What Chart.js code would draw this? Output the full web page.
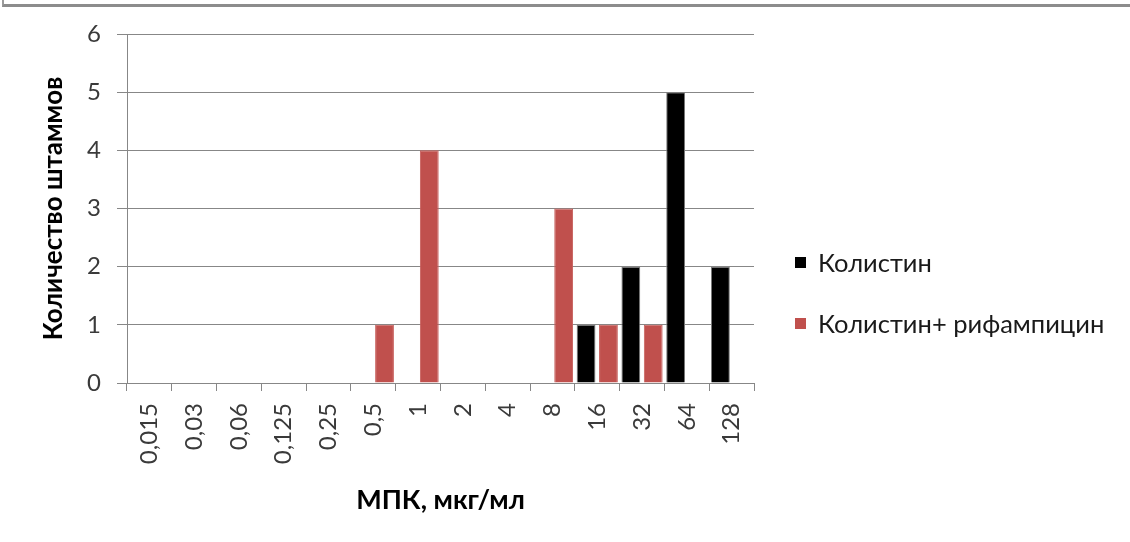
<!DOCTYPE html>
<html>
<head>
<meta charset="utf-8">
<script src="https://cdn.jsdelivr.net/npm/chart.js@4.4.1/dist/chart.umd.min.js"></script>
<style>
  html, body { margin: 0; padding: 0; background: #ffffff; }
  #wrap { position: relative; width: 1130px; height: 542px; overflow: hidden; }
  #frame {
    position: absolute; left: 2px; top: -10px; width: 1200px; height: 14px;
    border-left: 2px solid #9b9b9b; border-bottom: 3px solid #8c8c8c;
  }
  #legend { position: absolute; left: 0; top: 0; }
  .lg-item {
    position: absolute; display: flex; align-items: center; white-space: nowrap;
    font-family: Lato, "Open Sans", sans-serif; font-size: 25.5px; color: #1a1a1a;
  }
  .lg-box { width: 11px; height: 11px; margin-right: 12px; }
</style>
</head>
<body>
<div id="wrap">
  <canvas id="chart" width="1130" height="542"></canvas>
  <div id="frame"></div>
  <div id="legend"></div>
</div>
<script>
// MIC values (x categories)
const categories = ['0,015', '0,03', '0,06', '0,125', '0,25', '0,5', '1', '2', '4', '8', '16', '32', '64', '128'];
// number of strains per MIC
const colistin = [0, 0, 0, 0, 0, 0, 0, 0, 0, 0, 1, 2, 5, 2];
const colistinRifampicin = [0, 0, 0, 0, 0, 1, 4, 0, 0, 3, 1, 1, 0, 0];
const seriesNames = ['Колистин', 'Колистин+ рифампицин'];
const yTickValues = [0, 1, 2, 3, 4, 5, 6];

const FONT = 'Lato, "Open Sans", sans-serif';
const GRID = '#878787';

const chart = new Chart(document.getElementById('chart'), {
  type: 'bar',
  data: {
    labels: categories,
    datasets: [
      {
        label: seriesNames[0],
        data: colistin,
        backgroundColor: '#000000',
        borderColor: '#7a7a7a',
        borderWidth: 1,
        categoryPercentage: 1.0,
        barPercentage: 0.84
      },
      {
        label: seriesNames[1],
        data: colistinRifampicin,
        backgroundColor: '#C0504D',
        borderColor: '#C8605D',
        borderWidth: 1,
        categoryPercentage: 1.0,
        barPercentage: 0.84
      }
    ]
  },
  options: {
    responsive: false,
    animation: false,
    devicePixelRatio: 1,
    layout: { padding: { left: 0, top: 34, right: 376, bottom: 0 } },
    plugins: {
      legend: { display: false },
      tooltip: { enabled: false }
    },
    scales: {
      x: {
        grid: { display: true, drawOnChartArea: false, drawTicks: true, tickLength: 8, color: GRID },
        border: { display: true, color: GRID, width: 1 },
        ticks: {
          minRotation: 90, maxRotation: 90, autoSkip: false, padding: 12,
          color: '#3a3a3a', font: { family: FONT, size: 24 }
        },
        title: {
          display: true, text: 'МПК, мкг/мл', color: '#000000',
          font: { family: FONT, size: 27, weight: 'bold' },
          padding: { top: 0, bottom: 26 }
        },
        afterFit(scale) { scale.height = 159; }
      },
      y: {
        min: 0, max: 6,
        afterBuildTicks(scale) { scale.ticks = yTickValues.map(v => ({ value: v })); },
        grid: { display: true, drawTicks: true, tickLength: 10, color: GRID },
        border: { display: true, color: GRID, width: 1 },
        ticks: {
          padding: 16, color: '#3a3a3a', font: { family: FONT, size: 24 }
        },
        title: {
          display: true, text: 'Количество штаммов', color: '#000000',
          font: { family: FONT, size: 26, weight: 'bold' },
          padding: { top: 38, bottom: 0 }
        },
        afterFit(scale) { scale.width = 127; }
      }
    }
  }
});

// Legend items built from the chart's own legend labels
const legendEl = document.getElementById('legend');
const items = Chart.defaults.plugins.legend.labels.generateLabels(chart);
const legendTops = [247, 308];
items.forEach((it, i) => {
  const row = document.createElement('div');
  row.className = 'lg-item';
  row.style.left = '795px';
  row.style.top = legendTops[i] + 'px';
  const box = document.createElement('span');
  box.className = 'lg-box';
  box.style.background = it.fillStyle;
  const txt = document.createElement('span');
  txt.textContent = it.text;
  row.appendChild(box);
  row.appendChild(txt);
  legendEl.appendChild(row);
});
</script>
</body>
</html>
